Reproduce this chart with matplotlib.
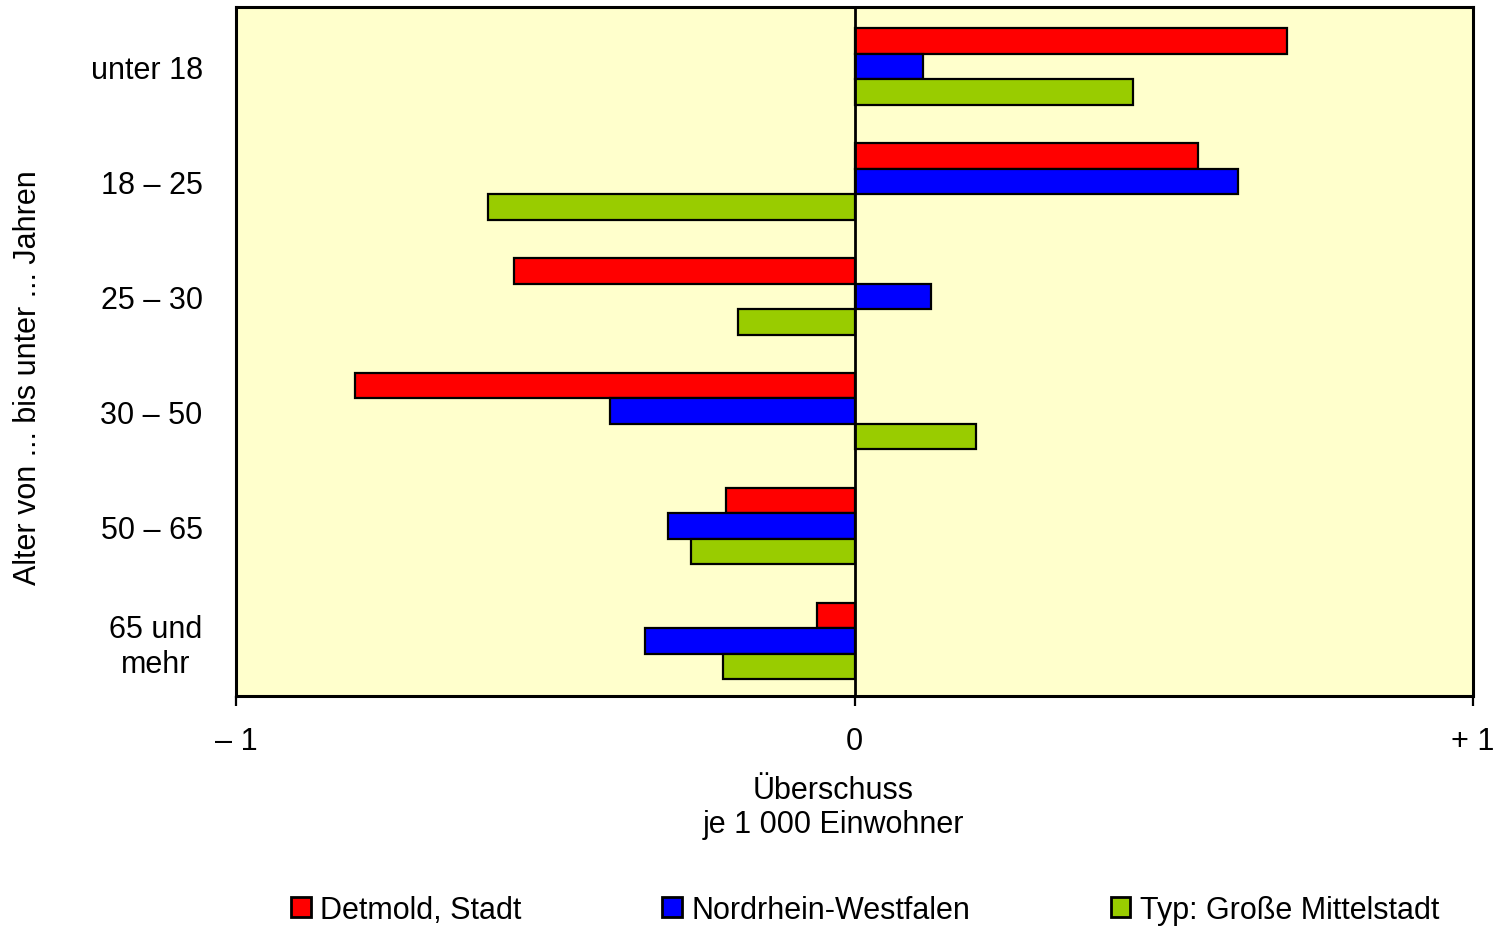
import numpy as np
import matplotlib
matplotlib.use('Agg')
import matplotlib.pyplot as plt
from matplotlib.patches import Patch

plt.rcParams['font.family'] = ['Liberation Sans', 'DejaVu Sans']

# age groups and surplus per 1 000 inhabitants
groups = ['unter 18', '18 – 25', '25 – 30', '30 – 50', '50 – 65', '65 und\nmehr']
detmold = [0.70, 0.555, -0.551, -0.807, -0.207, -0.061]
nrw = [0.11, 0.62, 0.123, -0.396, -0.302, -0.338]
typ = [0.45, -0.593, -0.188, 0.196, -0.265, -0.213]

series_names = ['Detmold, Stadt', 'Nordrhein-Westfalen', 'Typ: Große Mittelstadt']
colors = ['#FF0000', '#0000FF', '#99CC00']

fs = 22

fig = plt.figure(figsize=(14.99, 9.28), dpi=100)
ax = fig.add_axes([236 / 1499, 1 - 697 / 928, (1473 - 236) / 1499, (697 - 8) / 928])
ax.set_facecolor('#FFFFCC')

y = np.arange(len(groups))
h = 0.222
for k, (vals, c) in enumerate(zip([detmold, nrw, typ], colors)):
    ax.barh(y + (k - 1) * h, vals, height=h, color=c, edgecolor='black', linewidth=1.6, zorder=3)

ax.axvline(0, color='black', linewidth=2, zorder=4)

ax.set_xlim(-1, 1)
ax.set_ylim(5.48, -0.52)

ax.set_yticks(y)
ax.set_yticklabels(groups, fontsize=fs)
ax.tick_params(axis='y', length=0, pad=24)
for lab in ax.get_yticklabels():
    lab.set_multialignment('center')

ax.set_xticks([-1, 0, 1])
ax.set_xticklabels(['– 1', '0', '+ 1'], fontsize=fs)
ax.tick_params(axis='x', length=7.5, width=1.6, pad=14, direction='out')

for s in ax.spines.values():
    s.set_linewidth(2.2)
    s.set_color('black')

fig.text(833 / 1499, 1 - 808 / 928, 'Überschuss\nje 1 000 Einwohner', ha='center', va='center',
         fontsize=fs, linespacing=1.2)
fig.text(28 / 1499, 1 - 378 / 928, 'Alter von ... bis unter ... Jahren', rotation=90,
         ha='center', va='center', fontsize=fs)

handles = [Patch(facecolor=c, edgecolor='black', linewidth=2) for c in colors]
fig.legend(handles, series_names, loc='center', bbox_to_anchor=(865 / 1499, 1 - 911 / 928),
           ncol=3, frameon=False, fontsize=fs, handlelength=0.65, handleheight=0.65,
           handletextpad=0.3, columnspacing=4.6, borderaxespad=0)

fig.savefig('out.png', dpi=100)
